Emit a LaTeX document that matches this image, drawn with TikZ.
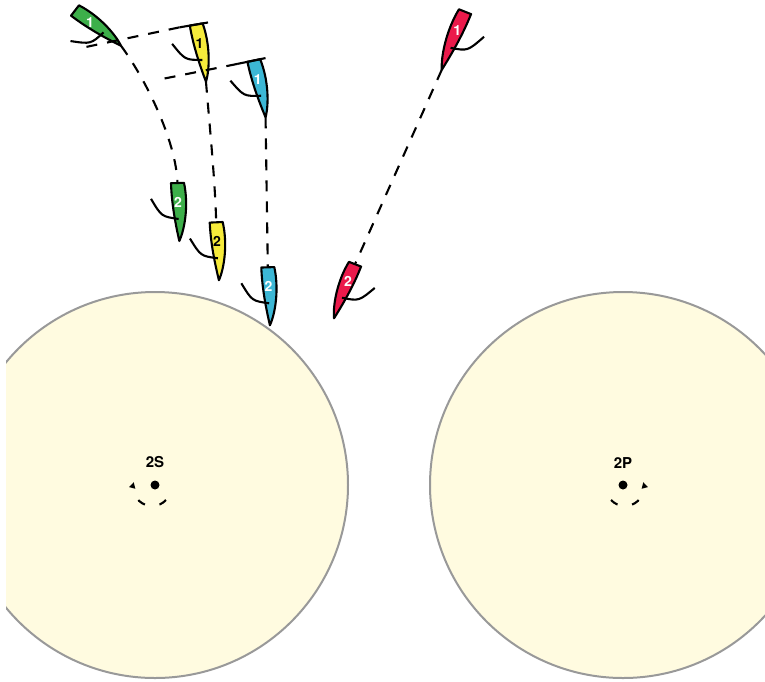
\documentclass[tikz,border=0pt]{standalone}
\usepackage{fontspec}
\setsansfont{TeX Gyre Heros}
\usetikzlibrary{calc,positioning,arrows.meta}
\definecolor{boatgreen}{HTML}{3DAF4A}
\definecolor{boatyellow}{HTML}{F6EB3B}
\definecolor{boatblue}{HTML}{3CB7D5}
\definecolor{boatred}{HTML}{EB1A4B}
\definecolor{zonefill}{HTML}{FFFBE0}
\definecolor{zoneline}{HTML}{999999}
\tikzstyle{hull}=[draw=black,line width=2.1pt,line join=round]
\tikzstyle{boom}=[draw=black,line width=2.1pt]
\tikzstyle{num}=[inner sep=0pt,font=\sffamily\bfseries\fontsize{14}{14}\selectfont]
\tikzstyle{track}=[draw=black,line width=2.1pt,dash pattern=on 11pt off 10pt]
\tikzstyle{zone}=[fill=zonefill,draw=zoneline,line width=2pt]
\tikzstyle{markdot}=[circle,fill=black,inner sep=0pt,minimum size=9pt]
\tikzstyle{marklabel}=[inner sep=0pt,font=\sffamily\bfseries\fontsize{15}{15}\selectfont]
\tikzstyle{rounding}=[draw=black,line width=2.1pt,dash pattern=on 8pt off 15pt,-{Triangle[length=6pt,width=6pt]}]
\tikzset{pics/boat/.style n args={3}{code={
\coordinate (-stern) at (0,0);
\coordinate (-bow) at (58,0);
\coordinate (-tp) at (0,-12);
\coordinate (-ts) at (0,17);
\draw[hull,fill=#1] (0,-6.5) .. controls (22,-10.5) and (46,-6) .. (58,0)
  .. controls (40,3.5) and (20,6.5) .. (0,6.5) -- cycle;
\draw[boom] (36,0) .. controls (33,17) .. (15,27);
\node[num,text=#2] (-num) at (19,0) {#3};
}}}
\begin{document}
\begin{tikzpicture}[x=1pt,y=-1pt]
\useasboundingbox (0,0) rectangle (765,681);
\clip (6,0) rectangle (765,681);
\draw[zone] (155,485) circle[radius=193pt];
\draw[zone] (623,485) circle[radius=193pt];
\node[markdot] (m2s) at (155,485) {};
\node[markdot] (m2p) at (623,485) {};
\node[marklabel,above=12pt of m2s] (l2s) {2S};
\node[marklabel,above=12pt of m2p] (l2p) {2P};
\draw[rounding] (166,500) arc[start angle=-43,end angle=-195,radius=19pt];
\draw[rounding] (611,500) arc[start angle=-137,end angle=15,radius=19pt];
\pic[rotate=-37.5] (g1) at (75,10.5) {boat={boatgreen}{white}{1}};
\pic[rotate=-80.3] (y1) at (196.2,24.5) {boat={boatyellow}{black}{1}};
\pic[rotate=-78.3] (b1) at (253.8,60.5) {boat={boatblue}{white}{1}};
\pic[rotate=-111.8,yscale=-1,xscale=1.08] (r1) at (465,11.7) {boat={boatred}{white}{1}};
\pic[rotate=-88.2] (g2) at (177.5,183) {boat={boatgreen}{white}{2}};
\pic[rotate=-87.3] (y2) at (216.2,222.3) {boat={boatyellow}{black}{2}};
\pic[rotate=-87.9] (b2) at (267.8,267.3) {boat={boatblue}{white}{2}};
\pic[rotate=-111.2,yscale=-1] (r2) at (355,264.2) {boat={boatred}{white}{2}};
\coordinate (ovy) at (81,48);
\coordinate (ovb) at (157,80);
\draw[hull] (y1-tp) -- (y1-ts);
\draw[track] (y1-ts) -- (ovy);
\draw[hull] (b1-tp) -- (b1-ts);
\draw[track] (b1-ts) -- (ovb);
\draw[track] (g1-bow) .. controls (145,78) and (176,140) .. (g2-stern);
\draw[track] (y1-bow) .. controls (210,130) and (215,180) .. (y2-stern);
\draw[track] (b1-bow) -- (b2-stern);
\draw[track] (r1-bow) -- (r2-stern);
\end{tikzpicture}
\end{document}
